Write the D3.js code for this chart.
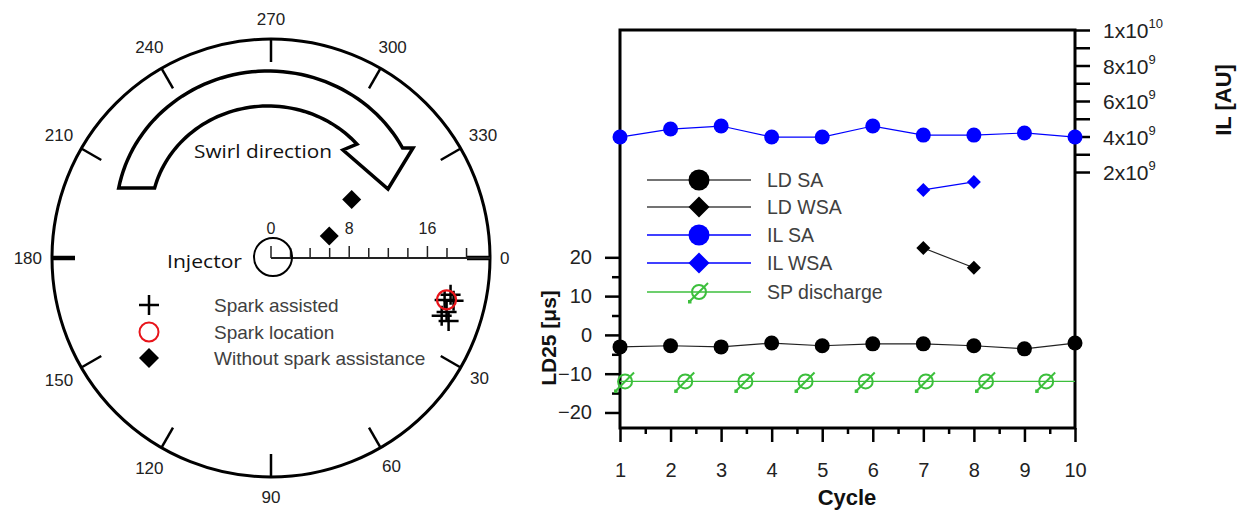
<!DOCTYPE html>
<html><head><meta charset="utf-8">
<script src="https://cdn.jsdelivr.net/npm/d3@7"></script>
<style>body{margin:0;background:#fff}svg{display:block}text{font-family:"Liberation Sans",Arial,sans-serif}</style>
</head><body>
<svg id="c" width="1246" height="513"></svg>
<script>
// ---------- Left: polar plot data ----------
const angleTicks = [0, 30, 60, 90, 120, 150, 180, 210, 240, 270, 300, 330];
const radialTicks = [0, 2, 4, 6, 8, 10, 12, 14, 16, 18, 20];
const radialLabels = [0, 8, 16];
const sparkAssistedR = [18.75, 19.18, 18.27, 18.43, 19.27, 18.79];
const sparkAssistedTheta = [11.6, 13.2, 13.6, 18.7, 19.5, 17.1];
const sparkLocationR = [18.46];
const sparkLocationTheta = [13.4];
const withoutSparkR = [10.2, 6.37];
const withoutSparkTheta = [324, 339.3];
const polarLegend = ["Spark assisted", "Spark location", "Without spark assistance"];

// ---------- Right: cycle chart data ----------
const cycles = [1, 2, 3, 4, 5, 6, 7, 8, 9, 10];
const ldSA = [-3.1, -2.8, -3.1, -2.1, -2.8, -2.3, -2.3, -2.8, -3.6, -2.1];
const wsaCycles = [7, 8];
const ldWSA = [22.4, 17.3];
const ilSA = [3.97e9, 4.42e9, 4.59e9, 3.97e9, 3.97e9, 4.59e9, 4.08e9, 4.08e9, 4.2e9, 3.97e9];
const ilWSA = [0.99e9, 1.44e9];
const spLineCycles = [1, 10];
const spLineValues = [-12, -12];
const spMarkerCycles = [1.1, 2.29, 3.48, 4.67, 5.86, 7.05, 8.24, 9.43];
const spMarkerValues = [-12, -12, -12, -12, -12, -12, -12, -12];
const ldTicks = [-20, -10, 0, 10, 20];
const ldMinor = [-15, -5, 5, 15];
const ilTicks = [2e9, 4e9, 6e9, 8e9, 1e10];
const ilMinor = [3e9, 5e9, 7e9, 9e9];
const ilTickLabels = [["2x10", "9"], ["4x10", "9"], ["6x10", "9"], ["8x10", "9"], ["1x10", "10"]];
const legendNames = ["LD SA", "LD WSA", "IL SA", "IL WSA", "SP discharge"];

const svg = d3.select("#c");
const BLUE = "#0000ff", GREEN = "#3cbf3c";

// ================= POLAR =================
const cx = 271, cy = 258, R = 219;
const rS = d3.scaleLinear().domain([0, 22.4]).range([0, R]);
const aS = d3.scaleLinear().domain([0, 360]).range([0, 2 * Math.PI]);
const px = (r, t) => cx + rS(r) * Math.cos(aS(t));
const py = (r, t) => cy + rS(r) * Math.sin(aS(t));
const P = svg.append("g");

P.append("circle").attr("cx", cx).attr("cy", cy).attr("r", R)
  .attr("fill", "none").attr("stroke", "#000").attr("stroke-width", 3);
angleTicks.forEach(t => {
  const a = aS(t), c = Math.cos(a), s = Math.sin(a);
  const thick = (t === 0 || t === 180);
  P.append("line")
    .attr("x1", cx + R * c).attr("y1", cy + R * s)
    .attr("x2", cx + (R - 23) * c).attr("y2", cy + (R - 23) * s)
    .attr("stroke", "#000").attr("stroke-width", thick ? 4.5 : 2.5);
  const txt = P.append("text").text(t).attr("font-size", 17).attr("fill", "#222")
    .attr("text-anchor", "middle").attr("dominant-baseline", "central");
  const w = txt.node().getComputedTextLength();
  const rr = 233 + (w / 2 - 4) * Math.abs(c) + 6 * Math.abs(s);
  txt.attr("x", cx + rr * c).attr("y", cy + rr * s);
});

// radial axis
P.append("line").attr("x1", cx).attr("y1", cy).attr("x2", cx + R).attr("y2", cy)
  .attr("stroke", "#222").attr("stroke-width", 2);
radialTicks.forEach(v => {
  P.append("line").attr("x1", cx + rS(v)).attr("x2", cx + rS(v))
    .attr("y1", cy).attr("y2", cy - (radialLabels.includes(v) ? 12 : 10))
    .attr("stroke", "#222").attr("stroke-width", 1.5);
});
radialLabels.forEach(v => {
  P.append("text").text(v).attr("x", cx + rS(v)).attr("y", cy - 30)
    .attr("font-size", 16).attr("fill", "#222").attr("text-anchor", "middle")
    .attr("dominant-baseline", "central");
});
// injector
P.append("circle").attr("cx", cx + 2).attr("cy", cy - 1).attr("r", 19)
  .attr("fill", "none").attr("stroke", "#000").attr("stroke-width", 2);
P.append("text").text("Injector").attr("x", 242).attr("y", 261)
  .attr("text-anchor", "end").attr("dominant-baseline", "central")
  .attr("font-size", 19).attr("fill", "#111")
  .style("font-family", "'Open Sans',sans-serif")
  .attr("textLength", 75).attr("lengthAdjust", "spacingAndGlyphs");

// swirl arrow (block arc shape)
(function () {
  const ecx = 268, ecy = 215;
  const outer = [], inner = [];
  const deg = Math.PI / 180;
  const o0 = 190.8, o1 = 332.3, i0 = 194.3, i1 = 319.5;
  for (let k = 0; k <= 60; k++) { const t = o0 + (o1 - o0) * k / 60; outer.push([ecx + 152 * Math.cos(t * deg), ecy + 144 * Math.sin(t * deg)]); }
  for (let k = 0; k <= 60; k++) { const t = i1 - (i1 - i0) * k / 60; inner.push([ecx + 117 * Math.cos(t * deg), ecy + 109 * Math.sin(t * deg)]); }
  const head = [[413, 148], [388, 189], [343, 150]];
  const pts = outer.concat(head, inner);
  P.append("path").attr("d", d3.line()(pts) + "Z")
    .attr("fill", "#fff").attr("stroke", "#000").attr("stroke-width", 3.5)
    .attr("stroke-linejoin", "miter");
})();
P.append("text").text("Swirl direction").attr("x", 194).attr("y", 151)
  .attr("dominant-baseline", "central").attr("font-size", 19).attr("fill", "#111")
  .style("font-family", "'Open Sans',sans-serif")
  .attr("textLength", 138).attr("lengthAdjust", "spacingAndGlyphs");

// markers
const crossPath = (x, y, a) => `M${x - a},${y}H${x + a}M${x},${y - a}V${y + a}`;
const diamondPath = (x, y, a) => `M${x},${y - a}L${x + a},${y}L${x},${y + a}L${x - a},${y}Z`;
sparkAssistedR.forEach((r, i) => {
  P.append("path").attr("d", crossPath(px(r, sparkAssistedTheta[i]), py(r, sparkAssistedTheta[i]), 10))
    .attr("stroke", "#000").attr("stroke-width", 2.5).attr("fill", "none");
});
sparkLocationR.forEach((r, i) => {
  P.append("circle").attr("cx", px(r, sparkLocationTheta[i])).attr("cy", py(r, sparkLocationTheta[i]))
    .attr("r", 9.5).attr("fill", "none").attr("stroke", "#e8141a").attr("stroke-width", 2.2);
});
withoutSparkR.forEach((r, i) => {
  P.append("path").attr("d", diamondPath(px(r, withoutSparkTheta[i]), py(r, withoutSparkTheta[i]), 9.5))
    .attr("fill", "#000");
});
// polar legend
const lgY = [305, 332, 358];
P.append("path").attr("d", crossPath(149, lgY[0], 10)).attr("stroke", "#000").attr("stroke-width", 2.5);
P.append("circle").attr("cx", 149).attr("cy", lgY[1]).attr("r", 9.5).attr("fill", "none")
  .attr("stroke", "#e8141a").attr("stroke-width", 2);
P.append("path").attr("d", diamondPath(149, lgY[2], 10)).attr("fill", "#000");
polarLegend.forEach((s, i) => {
  P.append("text").text(s).attr("x", 214).attr("y", lgY[i]).attr("dominant-baseline", "central")
    .attr("font-size", 19).attr("fill", "#404040");
});

// ================= CYCLE CHART =================
const L = 620, Rr = 1075, T = 30, B = 428;
const x = d3.scaleLinear().domain([1, 10]).range([L, Rr]);
const yLD = d3.scaleLinear().domain([-24, 78.6]).range([B, T]);
const yIL = d3.scaleLinear().domain([-1.242e10, 1e10]).range([B, T]);
const G = svg.append("g");

const styleAxis = g => { g.select(".domain").remove(); g.selectAll("line").attr("stroke", "#000").attr("stroke-width", 2.5); };
const styleText = g => g.selectAll("text").attr("font-size", 20).attr("fill", "#222").style("font-family", "'Liberation Sans',Arial");
G.append("g").attr("transform", `translate(0,${B})`)
  .call(d3.axisBottom(x).tickValues(cycles).tickSize(14).tickPadding(21).tickFormat(d3.format("d")))
  .call(styleAxis).call(styleText);
G.append("g").attr("transform", `translate(0,${B})`)
  .call(d3.axisBottom(x).tickValues(cycles.slice(0, 9).map(c => c + 0.5)).tickSize(6).tickFormat(""))
  .call(styleAxis);
G.append("g").attr("transform", `translate(${L},0)`)
  .call(d3.axisLeft(yLD).tickValues(ldTicks).tickSize(15).tickPadding(13))
  .call(styleAxis).call(styleText);
G.append("g").attr("transform", `translate(${L},0)`)
  .call(d3.axisLeft(yLD).tickValues(ldMinor).tickSize(8).tickFormat(""))
  .call(styleAxis);
G.append("g").attr("transform", `translate(${Rr},0)`)
  .call(d3.axisRight(yIL).tickValues(ilTicks.concat(ilMinor)).tickSize(15).tickFormat(""))
  .call(styleAxis);
ilTicks.forEach((v, i) => {
  const t = G.append("text").attr("x", 1103).attr("y", yIL(v) + 8).attr("font-size", 21).attr("fill", "#222");
  t.append("tspan").text(ilTickLabels[i][0]);
  t.append("tspan").text(ilTickLabels[i][1]).attr("font-size", 13).attr("dy", -10);
});
G.append("rect").attr("x", L).attr("y", T).attr("width", Rr - L).attr("height", B - T)
  .attr("fill", "none").attr("stroke", "#000").attr("stroke-width", 3);

// axis titles
G.append("text").attr("transform", "translate(556,338) rotate(-90)").attr("text-anchor", "middle")
  .attr("font-size", 21).attr("font-weight", "bold").attr("fill", "#111").text("LD25 [μs]");
G.append("text").attr("transform", "translate(1231,100) rotate(-90)").attr("text-anchor", "middle")
  .attr("font-size", 22).attr("font-weight", "bold").attr("fill", "#111").text("IL [AU]");
G.append("text").attr("x", 847).attr("y", 505).attr("text-anchor", "middle")
  .attr("font-size", 22).attr("font-weight", "bold").attr("fill", "#111").text("Cycle");

// series
const lineLD = (xs, ys) => d3.line().x((d, i) => x(xs[i])).y(d => yLD(d))(ys);
const lineIL = (xs, ys) => d3.line().x((d, i) => x(xs[i])).y(d => yIL(d))(ys);
G.append("path").attr("d", lineLD(spLineCycles, spLineValues)).attr("stroke", GREEN).attr("stroke-width", 1.3).attr("fill", "none");
const spMarker = (g, cxp, cyp) => {
  g.append("circle").attr("cx", cxp).attr("cy", cyp).attr("r", 7).attr("fill", "none").attr("stroke", GREEN).attr("stroke-width", 2);
  g.append("line").attr("x1", cxp - 9).attr("y1", cyp + 9).attr("x2", cxp + 9).attr("y2", cyp - 9).attr("stroke", GREEN).attr("stroke-width", 2);
  g.append("rect").attr("x", cxp - 11).attr("y", cyp + 8).attr("width", 3.5).attr("height", 3.5).attr("fill", GREEN);
};
spMarkerCycles.forEach((c, i) => spMarker(G, x(c), yLD(spMarkerValues[i])));

G.append("path").attr("d", lineLD(cycles, ldSA)).attr("stroke", "#222").attr("stroke-width", 1.2).attr("fill", "none");
ldSA.forEach((v, i) => G.append("circle").attr("cx", x(cycles[i])).attr("cy", yLD(v)).attr("r", 7.5).attr("fill", "#000"));
G.append("path").attr("d", lineLD(wsaCycles, ldWSA)).attr("stroke", "#222").attr("stroke-width", 1.2).attr("fill", "none");
ldWSA.forEach((v, i) => G.append("path").attr("d", diamondPath(x(wsaCycles[i]), yLD(v), 7)).attr("fill", "#000"));
G.append("path").attr("d", lineIL(cycles, ilSA)).attr("stroke", BLUE).attr("stroke-width", 1.2).attr("fill", "none");
ilSA.forEach((v, i) => G.append("circle").attr("cx", x(cycles[i])).attr("cy", yIL(v)).attr("r", 7.5).attr("fill", BLUE));
G.append("path").attr("d", lineIL(wsaCycles, ilWSA)).attr("stroke", BLUE).attr("stroke-width", 1.2).attr("fill", "none");
ilWSA.forEach((v, i) => G.append("path").attr("d", diamondPath(x(wsaCycles[i]), yIL(v), 7)).attr("fill", BLUE));

// legend
const legY = [180, 207, 235, 263, 292];
const legCol = ["#444", "#444", BLUE, BLUE, GREEN];
legendNames.forEach((n, i) => {
  G.append("line").attr("x1", 647).attr("x2", 751).attr("y1", legY[i]).attr("y2", legY[i])
    .attr("stroke", legCol[i]).attr("stroke-width", 1.3);
  const mc = i < 2 ? "#000" : BLUE;
  if (i === 0 || i === 2) G.append("circle").attr("cx", 699).attr("cy", legY[i]).attr("r", 10.5).attr("fill", mc);
  else if (i === 1 || i === 3) G.append("path").attr("d", diamondPath(699, legY[i], 10.5)).attr("fill", mc);
  else spMarker(G, 699, legY[i]);
  G.append("text").text(n).attr("x", 767).attr("y", legY[i]).attr("dominant-baseline", "central")
    .attr("font-size", 19.5).attr("fill", "#404040");
});
</script>
</body></html>
